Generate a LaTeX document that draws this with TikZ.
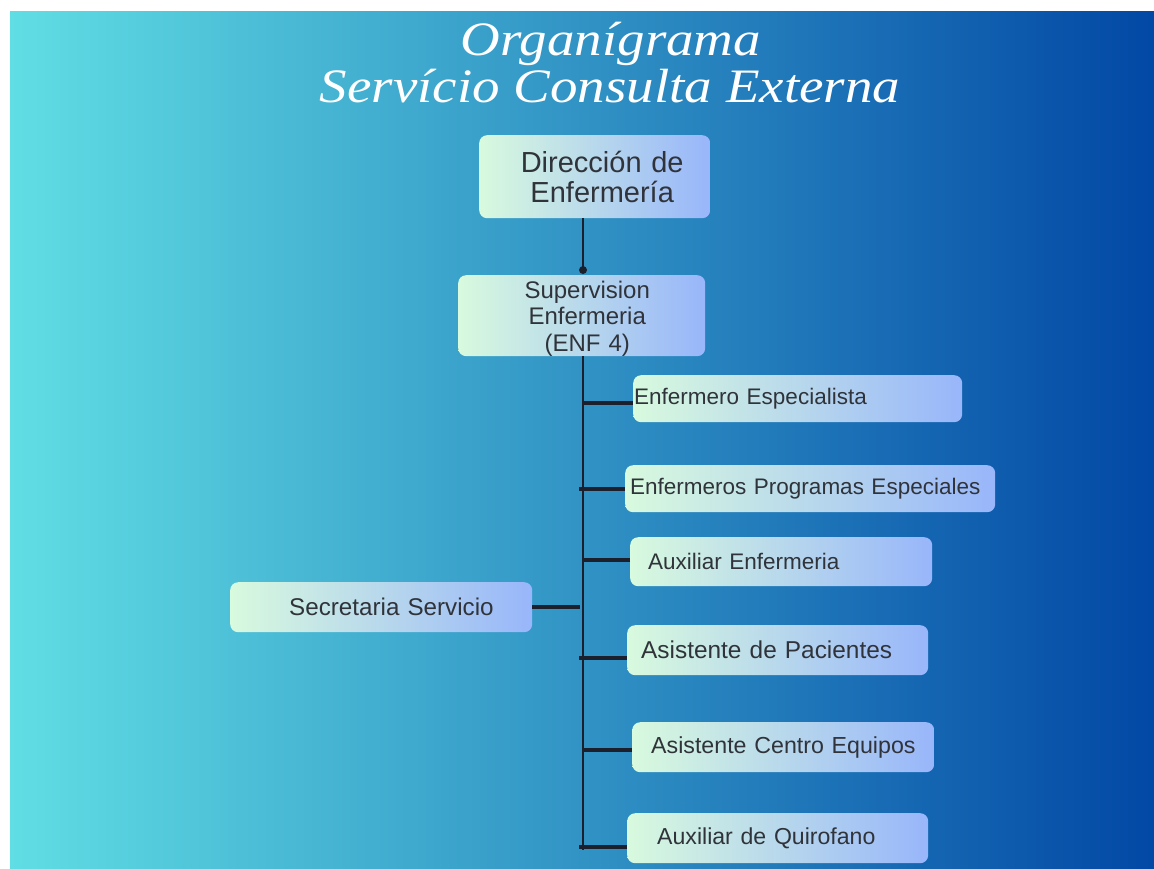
\documentclass[tikz,border=0pt]{standalone}
\usepackage{fontspec}
\setmainfont{Liberation Sans}
\newfontfamily\titlefont{Liberation Serif}
\definecolor{bgL}{RGB}{96,222,228}
\definecolor{bgR}{RGB}{2,72,165}
\definecolor{boxL}{RGB}{216,250,222}
\definecolor{boxR}{RGB}{152,182,250}
\definecolor{txt}{RGB}{48,52,58}
\definecolor{ln}{RGB}{28,32,44}
\tikzset{
  orgbox/.style={draw=none, rounded corners=8pt, left color=boxL, right color=boxR,
    text=txt, anchor=north west, inner ysep=0pt, inner xsep=0pt, align=left},
  smallbox/.style={orgbox, font=\fontsize{22.5}{26}\selectfont},
  trunkline/.style={draw=ln, line width=2.3pt},
  branchline/.style={draw=ln, line width=4.2pt},
}
\begin{document}
\begin{tikzpicture}[x=1pt,y=-1pt]
\useasboundingbox (0,0) rectangle (1154,868);
\fill[white] (0,0) rectangle (1154,868);
\shade[left color=bgL, right color=bgR] (10,11) rectangle (1154,868);

% title
\node[text=white, font=\titlefont\itshape\fontsize{48}{48}\selectfont, xscale=1.145, anchor=base] (t1) at (611,55) {Organígrama};
\node[text=white, font=\titlefont\itshape\fontsize{48}{48}\selectfont, xscale=1.145, anchor=base] (t2) at (610,102) {Servício Consulta Externa};

% top boxes
\node[orgbox, align=center, font=\fontsize{29}{30}\selectfont, minimum width=231pt, minimum height=83pt, text width=231pt] (dir) at (479,135)
  {\hspace*{15pt}Dirección de\\\hspace*{15pt}Enfermería};
\node[orgbox, align=center, font=\fontsize{24}{26.5}\selectfont, minimum width=247pt, minimum height=78pt, text width=247pt] (sup) at (458,275)
  {\rule{0pt}{23pt}\hspace*{11pt}Supervision\\\hspace*{11pt}Enfermeria\\\hspace*{11pt}(ENF 4)};

% right boxes
\node[smallbox, minimum width=329pt, minimum height=47pt, text width=329pt] (ee) at (633,375) {\hspace*{1pt}Enfermero Especialista};
\node[smallbox, minimum width=370pt, minimum height=47pt, text width=370pt] (ep) at (625,465) {\hspace*{5pt}Enfermeros Programas Especiales};
\node[smallbox, minimum width=302pt, minimum height=49pt, text width=302pt] (ae) at (630,537) {\hspace*{18pt}Auxiliar Enfermeria};
\node[smallbox, font=\fontsize{24.2}{26}\selectfont, minimum width=302pt, minimum height=50pt, text width=302pt] (ss) at (230,582) {\hspace*{59pt}Secretaria Servicio};
\node[smallbox, font=\fontsize{24.4}{26}\selectfont, minimum width=301pt, minimum height=50pt, text width=301pt] (ap) at (627,625) {\hspace*{14pt}Asistente de Pacientes};
\node[smallbox, font=\fontsize{23.2}{26}\selectfont, minimum width=302pt, minimum height=50pt, text width=302pt] (ac) at (632,722) {\hspace*{19pt}Asistente Centro Equipos};
\node[smallbox, font=\fontsize{23.1}{26}\selectfont, minimum width=301pt, minimum height=50pt, text width=301pt] (aq) at (627,813) {\hspace*{30pt}Auxiliar de Quirofano};

% connectors
\coordinate (dot) at (583,270);
\coordinate (tend) at (583,850);
\draw[trunkline] (dir.south -| dot) -- (dot);
\fill[ln] (dot) circle (4pt);
\draw[trunkline] (sup.south -| tend) -- (tend);

\draw[branchline] ([yshift=-4.5pt]ee.west) -- ([yshift=-4.5pt]ee.west -| tend);
\draw[branchline] ([yshift=0pt]ep.west) -- ([xshift=-4pt]ep.west -| tend);
\draw[branchline] ([yshift=1.5pt]ae.west) -- ([yshift=1.5pt]ae.west -| tend);
\draw[branchline] (ss.east) -- ([xshift=-3pt]ss.east -| tend);
\draw[branchline] ([yshift=-8pt]ap.west) -- ([yshift=-8pt, xshift=-4pt]ap.west -| tend);
\draw[branchline] ([yshift=-3pt]ac.west) -- ([yshift=-3pt]ac.west -| tend);
\draw[branchline] ([yshift=-9pt]aq.west) -- ([yshift=-9pt, xshift=-4pt]aq.west -| tend);
\end{tikzpicture}
\end{document}
